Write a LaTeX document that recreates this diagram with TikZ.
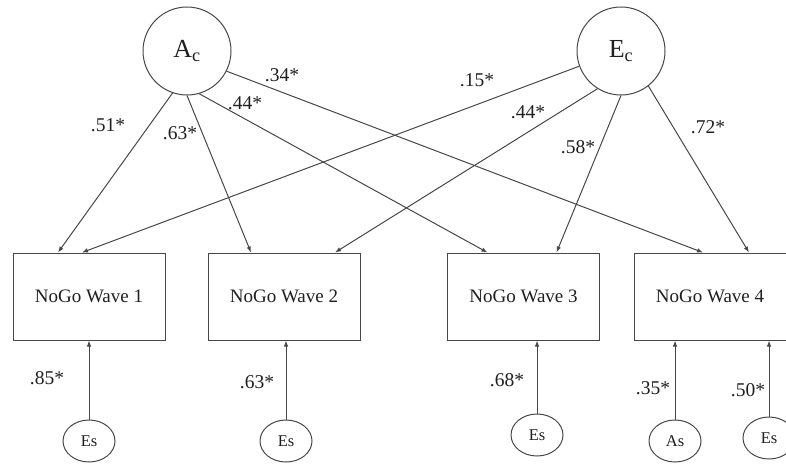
\documentclass[tikz,border=0pt]{standalone}
\usepackage{fontspec}
\setmainfont{Liberation Serif}
\usetikzlibrary{shapes.geometric,arrows.meta}
\begin{document}
\begin{tikzpicture}[x=1pt,y=-1pt,line width=1pt,
  path/.style={draw=black!72,-{Latex[length=6pt,width=4.5pt]}},
  latent/.style={circle,draw=black!72,minimum size=88pt,inner sep=0pt,
    text=black!88,font=\fontsize{26}{26}\selectfont},
  obs/.style={rectangle,draw=black!72,minimum width=152pt,minimum height=87pt,
    inner sep=0pt,text=black!88,font=\fontsize{19}{21}\selectfont},
  resid/.style={ellipse,draw=black!72,minimum width=52pt,minimum height=42pt,
    inner sep=0pt,text=black!88,font=\fontsize{16.5}{17}\selectfont},
  coef/.style={inner sep=0pt,text=black!88,font=\fontsize{19.5}{20}\selectfont}]
\useasboundingbox (0,0) rectangle (786,466);

% latent factors
\node[latent] (ac) at (187,51) {A\textsubscript{c}};
\node[latent] (ec) at (621,51) {E\textsubscript{c}};

% observed NoGo measures
\node[obs] (b1) at (89,296.5)  {NoGo Wave 1};
\node[obs] (b2) at (284,296.5) {NoGo Wave 2};
\node[obs] (b3) at (523.5,296.5) {NoGo Wave 3};
\node[obs] (b4) at (710,296.5) {NoGo Wave 4};

% residual terms
\node[resid] (es1) at (89,441)  {Es};
\node[resid] (es2) at (286,441) {Es};
\node[resid] (es3) at (537,435) {Es};
\node[resid] (as4) at (675,441) {As};
\node[resid] (es4) at (769,438) {Es};

% loadings of A_c
\draw[path] (ac.251) -- ([xshift=-31pt]b1.north);
\draw[path] (ac.270) -- ([xshift=-33pt]b2.north);
\draw[path] (ac.286) -- ([xshift=-36pt]b3.north);
\draw[path] (ac.333) -- ([xshift=-7pt]b4.north);

% loadings of E_c
\draw[path] (ec.200) -- ([xshift=-7pt]b1.north);
\draw[path] (ec.238) -- ([xshift=51pt]b2.north);
\draw[path] (ec.270) -- ([xshift=33pt]b3.north);
\draw[path] (ec.308) -- ([xshift=39pt]b4.north);

% residual paths
\draw[path] (es1.north) -- (es1.north |- b1.south);
\draw[path] (es2.north) -- (es2.north |- b2.south);
\draw[path] (es3.north) -- (es3.north |- b3.south);
\draw[path] (as4.north) -- (as4.north |- b4.south);
\draw[path] (es4.north) -- (es4.north |- b4.south);

% coefficients
\node[coef] (l1) at (108,125) {.51*};
\node[coef] (l2) at (180,133) {.63*};
\node[coef] (l3) at (245,103) {.44*};
\node[coef] (l4) at (282,75)  {.34*};
\node[coef] (l5) at (477,80)  {.15*};
\node[coef] (l6) at (528,112) {.44*};
\node[coef] (l7) at (578,147) {.58*};
\node[coef] (l8) at (708,127) {.72*};
\node[coef] (l9) at (47,378)  {.85*};
\node[coef] (l10) at (257,382) {.63*};
\node[coef] (l11) at (507,380) {.68*};
\node[coef] (l12) at (653,388) {.35*};
\node[coef] (l13) at (748,390) {.50*};
\end{tikzpicture}
\end{document}
